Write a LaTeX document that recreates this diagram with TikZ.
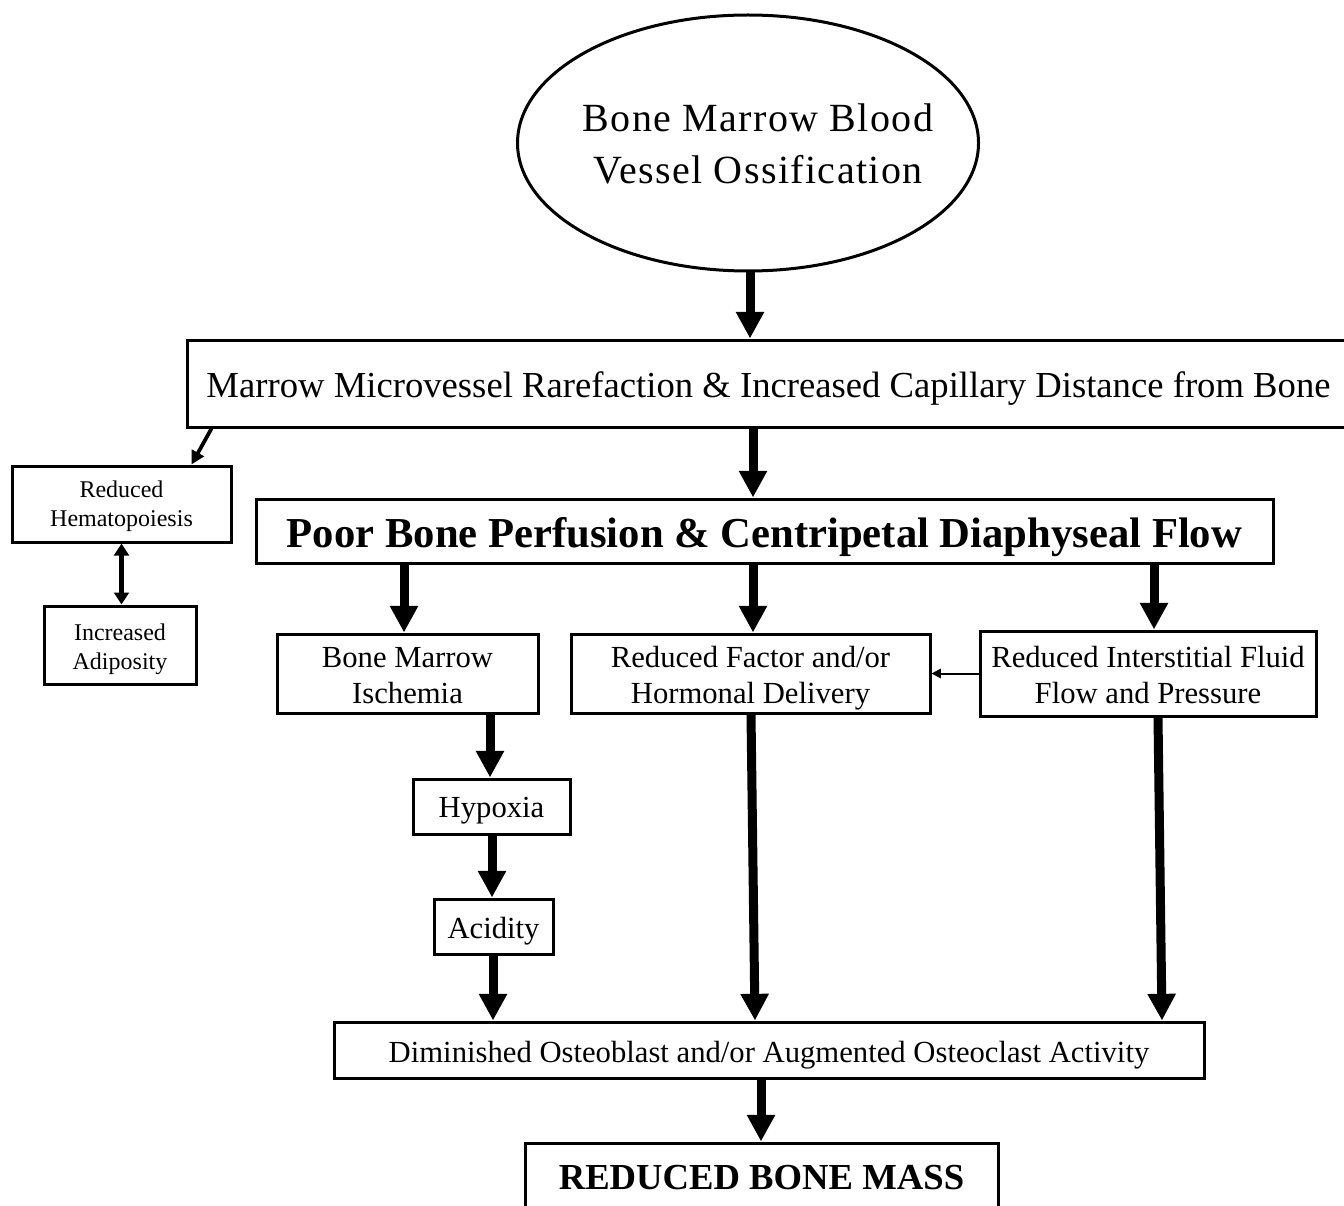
\documentclass[tikz,border=0pt]{standalone}
\usepackage{fontspec}
\setmainfont{Liberation Serif}
\usetikzlibrary{shapes.geometric,arrows.meta,calc}
\newcommand\dn[2]{\raisebox{-#1}[\height][\depth]{#2}}
\tikzset{
  box/.style={draw, line width=2.25pt, inner sep=0pt, align=center, rectangle},
  fA/.style={font=\fontsize{18}{21.75}\selectfont},
  fB/.style={font=\fontsize{23}{27}\selectfont},
  big/.style={line width=6.75pt, -{Triangle[width=20pt,length=20pt]}},
  mid/.style={line width=2.8pt, -{Triangle[width=10pt,length=10pt]}},
  dbl/.style={line width=3.5pt, {Triangle[width=11pt,length=9pt]}-{Triangle[width=11pt,length=9pt]}},
  sml/.style={line width=1.5pt, -{Triangle[width=7pt,length=7pt]}}
}
\begin{document}
\begin{tikzpicture}[x=0.75pt,y=-0.75pt]
\useasboundingbox (0,0) rectangle (1344,1205);
\clip (0,0) rectangle (1344,1205);
\fill[white] (0,0) rectangle (1344,1205);

\node[draw, ellipse, line width=2.25pt, inner sep=0pt, minimum width=345.75pt, minimum height=192pt,
  font=\fontsize{30}{39}\selectfont\addfontfeatures{LetterSpace=3.5}] (ell) at (748,143)
  {\makebox[0pt]{\hspace*{15pt}\dn{3pt}{\begin{tabular}{@{}c@{}}Bone Marrow Blood\\Vessel Ossification\end{tabular}}}};

\node[box, minimum width=872.25pt, minimum height=65.25pt, font=\fontsize{27.5}{33}\selectfont] (marrow) at (768.5,383.5)
  {\dn{3.75pt}{Marrow Microvessel Rarefaction \& Increased Capillary Distance from Bone}};

\node[box, fA, minimum width=164.25pt, minimum height=57pt] (hema) at (121.5,504) {\dn{1.5pt}{Reduced}\\\dn{1.5pt}{Hematopoiesis}};
\node[box, fA, minimum width=114pt, minimum height=58.5pt] (adip) at (120,645) {\dn{3pt}{Increased}\\\dn{3pt}{Adiposity}};

\node[box, minimum width=762.75pt, minimum height=48pt, font=\fontsize{32}{38}\selectfont\bfseries] (poor) at (764.5,531)
  {\dn{4.5pt}{Poor Bone Perfusion \& Centripetal Diaphyseal Flow}};

\node[box, fB, minimum width=195.75pt, minimum height=59.25pt] (isch) at (407.5,673.5) {\dn{1.5pt}{Bone Marrow}\\\dn{1.5pt}{Ischemia}};
\node[box, fB, minimum width=269.25pt, minimum height=59.25pt] (factor) at (750.5,673.5) {\dn{3.75pt}{Reduced Factor and/or}\\\dn{3.75pt}{Hormonal Delivery}};
\node[box, fB, minimum width=252pt, minimum height=63.75pt] (inter) at (1148,673.5) {\dn{1.5pt}{Reduced Interstitial Fluid}\\\dn{1.5pt}{Flow and Pressure}};

\node[box, fB, minimum width=117.75pt, minimum height=41.25pt] (hyp) at (491.5,806.5) {\dn{3pt}{Hypoxia}};
\node[box, fB, minimum width=89.25pt, minimum height=41.25pt] (acid) at (493.5,926.5) {\dn{3.5pt}{Acidity}};

\node[box, fB, minimum width=652.5pt, minimum height=42pt] (dimin) at (769,1050)
  {\dn{3.75pt}{Diminished Osteoblast and/or Augmented Osteoclast Activity}};

\node[box, minimum width=354.75pt, minimum height=51pt, font=\fontsize{27.5}{33}\selectfont\bfseries] (mass) at (761.5,1177)
  {\dn{0.75pt}{REDUCED BONE MASS}};

\draw[big] ($(ell.south)+(2,0)$) -- ($(marrow.north)+(-18.5,0)$);
\draw[big] ($(marrow.south)+(-15.5,0)$) -- ($(poor.north)+(-11.5,0)$);
\draw[mid] ($(marrow.south west)+(26,0)$) -- ($(hema.north east)+(-41,0)$);
\draw[dbl] (hema.south) -- (hema.south |- adip.north);
\draw[big] ($(poor.south)+(-360.5,0)$) -- ($(isch.north)+(-3.5,0)$);
\draw[big] ($(poor.south)+(-11.5,0)$) -- ($(factor.north)+(2.5,0)$);
\draw[big] ($(poor.south)+(389.5,0)$) -- ($(inter.north)+(6,0)$);
\draw[sml] (inter.west) -- (factor.east);
\draw[big] ($(isch.south)+(82.5,0)$) -- ($(hyp.north)+(-1.5,0)$);
\draw[big] ($(hyp.south)+(0.5,0)$) -- ($(acid.north)+(-1.5,0)$);
\draw[big] ($(acid.south)+(-0.5,0)$) -- ($(dimin.north)+(-276,0)$);
\draw[big] ($(factor.south)+(0.5,0)$) -- ($(dimin.north)+(-14,0)$);
\draw[big] ($(inter.south)+(10,0)$) -- ($(dimin.north)+(393,0)$);
\draw[big] ($(dimin.south)+(-8,0)$) -- ($(mass.north)+(-0.5,0)$);
\end{tikzpicture}
\end{document}
